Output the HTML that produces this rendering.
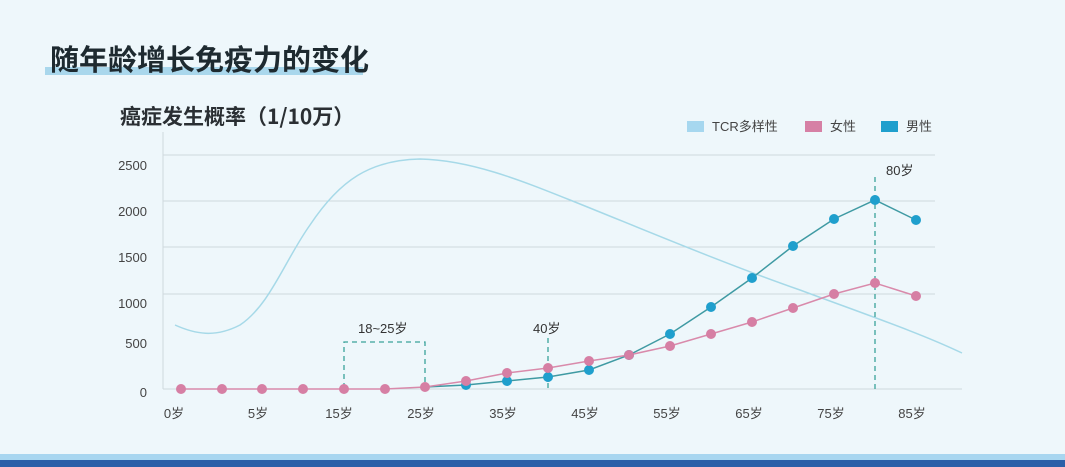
<!DOCTYPE html>
<html><head><meta charset="utf-8"><style>
body{margin:0;width:1065px;height:467px;overflow:hidden;background:#eef7fb;font-family:"Liberation Sans","Noto Sans CJK SC",sans-serif;}
</style></head><body>
<svg width="1065" height="467" xmlns="http://www.w3.org/2000/svg" style="position:absolute;left:0;top:0">
<rect x="0" y="0" width="1065" height="467" fill="#eef7fb"/>
<rect x="45" y="67" width="318" height="8" fill="#a9d7ec"/>
<text x="50" y="70" font-size="29" font-weight="bold" fill="#1e2a30" font-family="Noto Sans CJK SC,sans-serif">随年龄增长免疫力的变化</text>
<text x="120" y="124" font-size="21" font-weight="bold" fill="#2a2f33" font-family="Noto Sans CJK SC,sans-serif">癌症发生概率（1/10万）</text>
<g stroke="#cfd9de" stroke-width="1">
<line x1="163" y1="155" x2="935" y2="155"/><line x1="163" y1="201" x2="935" y2="201"/>
<line x1="163" y1="247" x2="935" y2="247"/><line x1="163" y1="294" x2="935" y2="294"/>
<line x1="163" y1="389" x2="962" y2="389"/><line x1="163" y1="132" x2="163" y2="389"/>
</g>
<g font-size="13" fill="#444" text-anchor="end">
<text x="147" y="170">2500</text><text x="147" y="216">2000</text><text x="147" y="262">1500</text>
<text x="147" y="308">1000</text><text x="147" y="348">500</text><text x="147" y="397">0</text>
</g>
<g font-size="13" fill="#444" text-anchor="middle" font-family="Liberation Sans,Noto Sans CJK SC,sans-serif">
<text x="174" y="418">0岁</text><text x="258" y="418">5岁</text><text x="339" y="418">15岁</text>
<text x="421" y="418">25岁</text><text x="503" y="418">35岁</text><text x="585" y="418">45岁</text>
<text x="667" y="418">55岁</text><text x="749" y="418">65岁</text><text x="831" y="418">75岁</text><text x="912" y="418">85岁</text>
</g>
<path d="M175,325 C195,334 215,338 240,325 C270,305 285,260 310,225 C340,180 370,160 420,159 C470,160 520,180 570,200 C640,228 720,262 800,290 C870,316 920,333 962,353" fill="none" stroke="#a6d9e8" stroke-width="1.5"/>
<g stroke="#3aa39a" stroke-width="1.3" stroke-dasharray="5,4" fill="none">
<path d="M344,388 V342 H425 V388"/><line x1="548" y1="338" x2="548" y2="389"/><line x1="875" y1="177" x2="875" y2="389"/>
</g>
<g font-size="13" fill="#333" font-family="Liberation Sans,Noto Sans CJK SC,sans-serif">
<text x="358" y="333">18~25岁</text><text x="533" y="333">40岁</text><text x="886" y="175">80岁</text>
</g>
<polyline points="425,387 466,385 507,381 548,377 589,370 629,355 670,334 711,307 752,278 793,246 834,219 875,200 916,220" fill="none" stroke="#3f9aa3" stroke-width="1.5"/>
<polyline points="181,389 222,389 262,389 303,389 344,389 385,389 425,387 466,381 507,373 548,368 589,361 629,355 670,346 711,334 752,322 793,308 834,294 875,283 916,296" fill="none" stroke="#d98aab" stroke-width="1.5"/>
<g fill="#1f9fcd">
<circle cx="466" cy="385" r="5"/><circle cx="507" cy="381" r="5"/><circle cx="548" cy="377" r="5"/><circle cx="589" cy="370" r="5"/><circle cx="629" cy="355" r="5"/><circle cx="670" cy="334" r="5"/><circle cx="711" cy="307" r="5"/><circle cx="752" cy="278" r="5"/><circle cx="793" cy="246" r="5"/><circle cx="834" cy="219" r="5"/><circle cx="875" cy="200" r="5"/><circle cx="916" cy="220" r="5"/>
</g>
<g fill="#d67fa4">
<circle cx="181" cy="389" r="5"/><circle cx="222" cy="389" r="5"/><circle cx="262" cy="389" r="5"/><circle cx="303" cy="389" r="5"/><circle cx="344" cy="389" r="5"/><circle cx="385" cy="389" r="5"/><circle cx="425" cy="387" r="5"/><circle cx="466" cy="381" r="5"/><circle cx="507" cy="373" r="5"/><circle cx="548" cy="368" r="5"/><circle cx="589" cy="361" r="5"/><circle cx="629" cy="355" r="5"/><circle cx="670" cy="346" r="5"/><circle cx="711" cy="334" r="5"/><circle cx="752" cy="322" r="5"/><circle cx="793" cy="308" r="5"/><circle cx="834" cy="294" r="5"/><circle cx="875" cy="283" r="5"/><circle cx="916" cy="296" r="5"/>
</g>
<rect x="687" y="121" width="17" height="11" fill="#a6d7ef"/>
<text x="712" y="131" font-size="13" fill="#444">TCR多样性</text>
<rect x="805" y="121" width="17" height="11" fill="#d680a5"/>
<text x="830" y="131" font-size="13" fill="#444">女性</text>
<rect x="881" y="121" width="17" height="11" fill="#1f9fcd"/>
<text x="906" y="131" font-size="13" fill="#444">男性</text>
<rect x="0" y="454" width="1065" height="6" fill="#a8d6f0"/>
<rect x="0" y="460" width="1065" height="7" fill="#2a5fa8"/>
</svg>
</body></html>
